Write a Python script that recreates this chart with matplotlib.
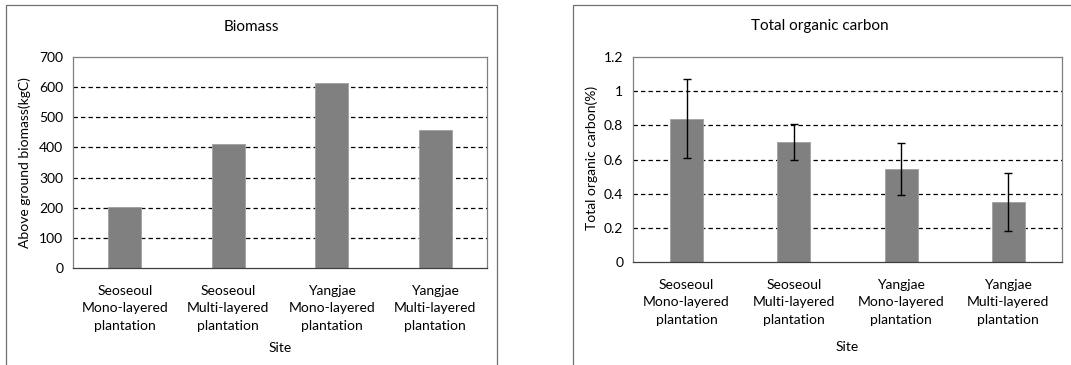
import numpy as np
import matplotlib.pyplot as plt
from matplotlib.patches import Rectangle

sites = ["Seoseoul\nMono-layered\nplantation", "Seoseoul\nMulti-layered\nplantation",
         "Yangjae\nMono-layered\nplantation", "Yangjae\nMulti-layered\nplantation"]
biomass = [202, 411, 613, 457]
toc = [0.84, 0.70, 0.545, 0.35]
toc_err = [0.23, 0.105, 0.15, 0.17]

plt.rcParams['font.family'] = ['Lato', 'DejaVu Sans']
fig = plt.figure(figsize=(10.71, 3.65), dpi=100)

# outer chart frames
fig.patches.append(Rectangle((6/1071, -0.1), 491/1071, 1.1 - 5/365, transform=fig.transFigure,
                             fill=False, edgecolor='#6f6f6f', lw=0.9))
fig.patches.append(Rectangle((573/1071, -0.1), 520/1071, 1.1 - 5/365, transform=fig.transFigure,
                             fill=False, edgecolor='#6f6f6f', lw=0.9))


def style(ax, ticks):
    ax.set_yticks(ticks)
    ax.tick_params(length=0, labelsize=10, pad=7)
    ax.tick_params(axis='x', pad=12)
    for t in ticks[1:-1]:
        ax.axhline(t, color='black', lw=0.9, ls=(0, (3.5, 2.5)), zorder=0)
    for s in ax.spines.values():
        s.set_color('#7f7f7f')
        s.set_linewidth(0.9)
    ax.spines['bottom'].set_color('#404040')
    for lab in ax.get_xticklabels():
        lab.set_linespacing(1.55)


x = np.arange(len(sites))

ax1 = fig.add_axes([73/1071, 0.2658, 414/1071, 0.578])
ax1.bar(x, biomass, width=0.32, color='#808080', edgecolor='#a0a0a0', lw=0.6, zorder=2)
ax1.set_xlim(-0.5, 3.5)
ax1.set_ylim(0, 700)
ax1.set_xticks(x)
ax1.set_xticklabels(sites)
style(ax1, list(range(0, 701, 100)))
fig.text(251/1071, 1 - 27/365, "Biomass", ha='center', va='center', fontsize=11)
fig.text(25/1071, 1 - 163/365, "Above ground biomass(kgC)", rotation=90, ha='center', va='center', fontsize=10)
fig.text(280/1071, 1 - 348/365, "Site", ha='center', va='center', fontsize=10)

ax2 = fig.add_axes([633/1071, 0.2822, 429/1071, 0.5616])
ax2.bar(x, toc, width=0.31, color='#808080', edgecolor='#a0a0a0', lw=0.6, zorder=2)
ax2.errorbar(x, toc, yerr=toc_err, fmt='none', ecolor='black', elinewidth=1, capsize=3, capthick=1, zorder=3)
ax2.set_xlim(-0.5, 3.5)
ax2.set_ylim(0, 1.2)
ax2.set_xticks(x)
ax2.set_xticklabels(sites)
style(ax2, [0, 0.2, 0.4, 0.6, 0.8, 1.0, 1.2])
ax2.set_yticklabels(['0', '0.2', '0.4', '0.6', '0.8', '1', '1.2'])
fig.text(820/1071, 1 - 26/365, "Total organic carbon", ha='center', va='center', fontsize=11)
fig.text(592/1071, 1 - 158/365, "Total organic carbon(%)", rotation=90, ha='center', va='center', fontsize=10)
fig.text(847/1071, 1 - 347/365, "Site", ha='center', va='center', fontsize=10)

fig.savefig("out.png", dpi=100)
